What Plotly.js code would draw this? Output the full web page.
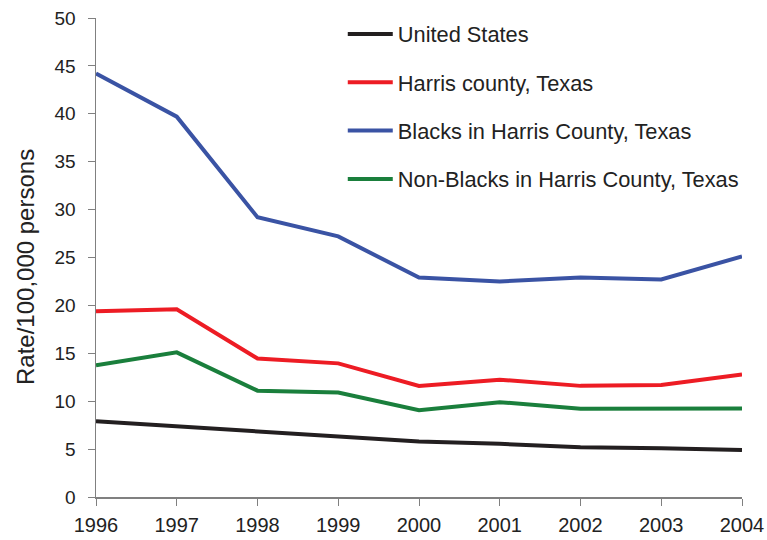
<!DOCTYPE html>
<html>
<head>
<meta charset="utf-8">
<script src="https://cdn.plot.ly/plotly-3.0.1.min.js"></script>
<style>html,body{margin:0;padding:0;background:#fff;}#chart{width:767px;height:540px;}</style>
</head>
<body>
<div id="chart"></div>
<script>
const years = [1996, 1997, 1998, 1999, 2000, 2001, 2002, 2003, 2004];
const seriesNames = ["United States", "Harris county, Texas", "Blacks in Harris County, Texas", "Non-Blacks in Harris County, Texas"];
const unitedStates = [7.9, 7.4, 6.8, 6.4, 5.8, 5.55, 5.2, 5.1, 4.9];
const harrisCounty = [19.4, 19.6, 14.45, 13.95, 11.6, 12.25, 11.6, 11.7, 12.8];
const blacksHarris = [44.2, 39.7, 29.2, 27.2, 22.9, 22.5, 22.9, 22.7, 25.1];
const nonBlacksHarris = [13.75, 15.1, 11.1, 10.9, 9.05, 9.9, 9.2, 9.25, 9.25];
const colors = ["#231f20", "#ed1c24", "#3a53a4", "#1a7f3c"];
const yTicks = [0, 5, 10, 15, 20, 25, 30, 35, 40, 45, 50];
const yTitle = "Rate/100,000 persons";

const allSeries = [unitedStates, harrisCounty, blacksHarris, nonBlacksHarris];
const traces = allSeries.map((vals, i) => ({
  x: years, y: vals, type: "scatter", mode: "lines", name: seriesNames[i],
  legendgroup: "g" + i,
  line: {color: colors[i], width: 4}
}));

const layout = {
  width: 767, height: 540,
  margin: {l: 96, r: 25, t: 18, b: 43},
  paper_bgcolor: "#fff", plot_bgcolor: "#fff",
  font: {family: "Liberation Sans, Arial, sans-serif", color: "#222", size: 19},
  showlegend: true,
  legend: {
    x: 0.382, y: 1.01, xanchor: "left", yanchor: "top",
    traceorder: "grouped", tracegroupgap: 17, itemwidth: 45,
    font: {size: 21.8, color: "#222"}, bgcolor: "rgba(0,0,0,0)"
  },
  xaxis: {
    range: [1996, 2004], tickvals: years, ticktext: years.map(String),
    showgrid: false, zeroline: false, showline: true, linecolor: "#808080", linewidth: 1.5,
    ticks: "outside", ticklen: 7, tickcolor: "#808080", tickfont: {size: 20},
    ticklabelstandoff: 2
  },
  yaxis: {
    range: [0, 50], tickvals: yTicks, showgrid: false, zeroline: false,
    showline: true, linecolor: "#808080", linewidth: 1.5,
    ticks: "outside", ticklen: 7, tickcolor: "#808080", tickfont: {size: 19},
    ticklabelstandoff: 8
  },
  annotations: [{
    text: yTitle, xref: "paper", yref: "paper", x: -0.11, y: 0.48,
    xanchor: "center", yanchor: "middle", textangle: -90, showarrow: false,
    font: {size: 24, color: "#222"}
  }]
};
Plotly.newPlot("chart", traces, layout, {displayModeBar: false, staticPlot: true});
</script>
</body>
</html>
